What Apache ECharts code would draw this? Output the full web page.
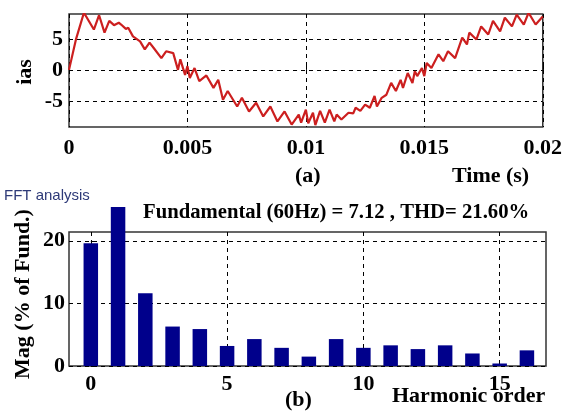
<!DOCTYPE html>
<html>
<head>
<meta charset="utf-8">
<script src="https://cdn.jsdelivr.net/npm/echarts@6/dist/echarts.min.js"></script>
<style>
  html, body { margin: 0; padding: 0; background: #fff; }
  #chart { width: 565px; height: 412px; }
</style>
</head>
<body>
<div id="chart"></div>
<script>
// (a) phase current ias vs time
var timePoints = [
  0, 0.0003, 0.00063, 0.00105, 0.00127, 0.0015, 0.0017, 0.0019, 0.0021, 0.0022,
  0.0024, 0.0025, 0.0027, 0.003, 0.0032, 0.0034, 0.0036, 0.0039, 0.0041, 0.0044,
  0.0046, 0.0047, 0.0049, 0.005, 0.0051, 0.0053, 0.0055, 0.0058, 0.0061, 0.0063,
  0.0065, 0.0067, 0.0071, 0.0073, 0.0076, 0.0079, 0.0082, 0.0085, 0.0088, 0.0091,
  0.0094, 0.0097, 0.0098, 0.01, 0.0101, 0.0103, 0.0104, 0.0106, 0.0108, 0.011,
  0.0112, 0.0113, 0.0115, 0.0118, 0.012, 0.0121, 0.0123, 0.0125, 0.0127, 0.0129,
  0.013, 0.0132, 0.0134, 0.0136, 0.0138, 0.014, 0.0141, 0.0143, 0.0145, 0.0146,
  0.0147, 0.0149, 0.015, 0.0151, 0.0153, 0.0156, 0.0158, 0.016, 0.0163, 0.0166,
  0.0168, 0.0169, 0.0172, 0.0174, 0.0177, 0.0179, 0.0182, 0.0184, 0.0187, 0.0189,
  0.0192, 0.0194, 0.0197, 0.02
]
var iasValues = [
  0, 5, 9.2, 6.5, 8.8, 6.0, 7.9, 7.2, 7.6, 7.3,
  6.6, 6.8, 5.4, 4.6, 3.3, 4.4, 3.4, 1.9, 3.0, 2.7,
  0, 1.7, -0.8, 0.6, -1.3, 0.3, -1.8, -0.9, -2.9, -1.6,
  -4.8, -3.4, -5.9, -4.5, -6.7, -5.3, -7.5, -5.9, -8.3, -6.7,
  -8.8, -7.2, -8.5, -6.4, -8.6, -6.9, -8.9, -6.6, -8.5, -6.4,
  -8.3, -7.2, -8.0, -6.9, -7.0, -6.1, -6.6, -5.6, -6.1, -4.2,
  -5.9, -4.5, -4.0, -2.1, -3.4, -1.6, -2.9, -0.5, -2.1, -0.2,
  -1.0, 0.3, -1.0, 1.1, 0.3, 2.5, 1.4, 3.0, 1.9, 5.2,
  4.1, 6.0, 4.9, 7.0, 5.7, 7.9, 6.2, 8.4, 7.0, 8.9,
  7.3, 9.2, 7.3, 8.6
]
var iasTicks = [-5, 0, 5]

// (b) FFT spectrum, % of fundamental
var harmonicOrder = [0, 1, 2, 3, 4, 5, 6, 7, 8, 9, 10, 11, 12, 13, 14, 15, 16]
var magValues = [19.6, 25.4, 11.6, 6.3, 5.9, 3.2, 4.3, 2.9, 1.5, 4.3, 2.9, 3.3, 2.7, 3.3, 2.0, 0.4, 2.5]
var harmonicTicks = [0, 5, 10, 15]
var magTicks = [0, 10, 20]

var serif = '"Liberation Serif", "Times New Roman", serif'
var dashed = { color: '#000', type: [4, 4], width: 1 }

var myChart = echarts.init(document.getElementById('chart'))

var option = {
  backgroundColor: '#fff',
  animation: false,
  grid: [
    { left: 69, top: 14, width: 476, height: 113, show: true, borderColor: '#333', borderWidth: 1.5, backgroundColor: '#fff' },
    { left: 69, top: 232, width: 477, height: 134, show: true, borderColor: '#333', borderWidth: 1.5, backgroundColor: '#fff' }
  ],
  xAxis: [
    {
      gridIndex: 0,
      type: 'value',
      min: 0,
      max: 0.02,
      interval: 0.005,
      axisLine: { show: false },
      axisTick: { inside: true, length: 4, lineStyle: { color: '#000' } },
      axisLabel: { margin: 10, color: '#000', fontFamily: serif, fontWeight: 'bold', fontSize: 22 },
      splitLine: { show: true, lineStyle: dashed }
    },
    {
      gridIndex: 1,
      type: 'value',
      min: -0.8,
      max: 16.7,
      axisLine: { show: false },
      axisTick: { inside: true, length: 4, customValues: harmonicTicks, lineStyle: { color: '#000' } },
      axisLabel: { margin: 7, customValues: harmonicTicks, color: '#000', fontFamily: serif, fontWeight: 'bold', fontSize: 22 },
      splitLine: { show: true, lineStyle: dashed }
    }
  ],
  yAxis: [
    {
      gridIndex: 0,
      type: 'value',
      min: -9.2,
      max: 9,
      axisLine: { show: false },
      axisTick: { inside: true, length: 4, customValues: iasTicks, lineStyle: { color: '#000' } },
      axisLabel: { margin: 6, customValues: iasTicks, color: '#000', fontFamily: serif, fontWeight: 'bold', fontSize: 22 },
      splitLine: { show: true, lineStyle: dashed }
    },
    {
      gridIndex: 1,
      type: 'value',
      min: 0,
      max: 21.4,
      axisLine: { show: false },
      axisTick: { inside: true, length: 4, customValues: magTicks, lineStyle: { color: '#000' } },
      axisLabel: { margin: 4, customValues: magTicks, color: '#000', fontFamily: serif, fontWeight: 'bold', fontSize: 22 },
      splitLine: { show: true, lineStyle: dashed }
    }
  ],
  series: [
    {
      type: 'line',
      xAxisIndex: 0,
      yAxisIndex: 0,
      symbol: 'none',
      lineStyle: { color: '#cc1f1f', width: 2.2 },
      data: timePoints.map(function (t, i) { return [t, iasValues[i]] })
    },
    {
      type: 'bar',
      xAxisIndex: 1,
      yAxisIndex: 1,
      barWidth: 14.5,
      clip: false,
      itemStyle: { color: '#00008b' },
      data: harmonicOrder.map(function (h, i) { return [h, magValues[i]] })
    }
  ],
  graphic: [
    { type: 'text', x: 25, y: 72, rotation: Math.PI / 2,
      style: { text: 'ias', font: 'bold 22px ' + serif, fill: '#000', align: 'center', verticalAlign: 'middle' } },
    { type: 'text', left: 295, top: 165,
      style: { text: '(a)', font: 'bold 22px ' + serif, fill: '#000' } },
    { type: 'text', left: 452, top: 165,
      style: { text: 'Time (s)', font: 'bold 22px ' + serif, fill: '#000' } },
    { type: 'text', left: 4, top: 188,
      style: { text: 'FFT analysis', font: '15px "Liberation Sans", Arial, sans-serif', fill: '#2e3a78' } },
    { type: 'text', left: 143, top: 202,
      style: { text: 'Fundamental (60Hz) = 7.12 , THD= 21.60%', font: 'bold 20.7px ' + serif, fill: '#000' } },
    { type: 'text', x: 23, y: 294, rotation: Math.PI / 2,
      style: { text: 'Mag (% of Fund.)', font: 'bold 22px ' + serif, fill: '#000', align: 'center', verticalAlign: 'middle' } },
    { type: 'text', left: 285, top: 389,
      style: { text: '(b)', font: 'bold 22px ' + serif, fill: '#000' } },
    { type: 'text', left: 392, top: 385,
      style: { text: 'Harmonic order', font: 'bold 22px ' + serif, fill: '#000' } }
  ]
}

myChart.setOption(option)
</script>
</body>
</html>
